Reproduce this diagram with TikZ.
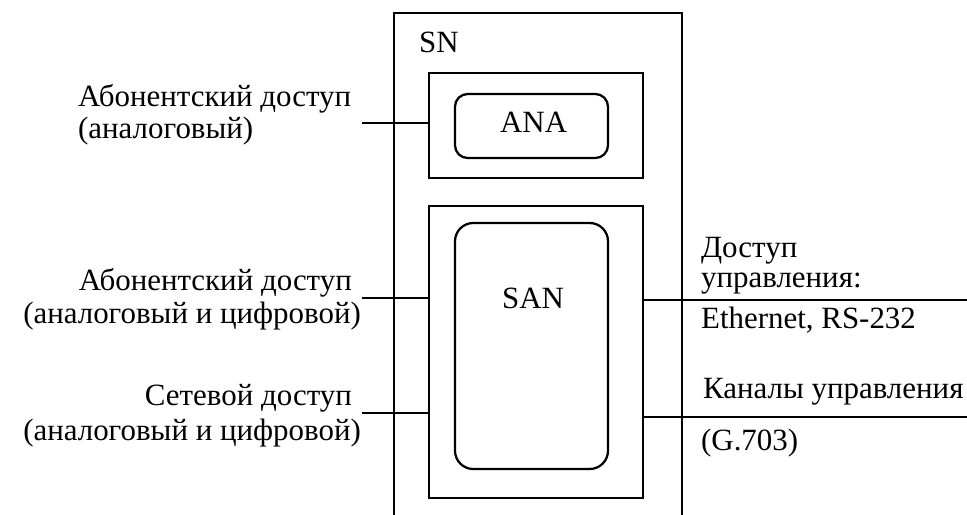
\documentclass[tikz,border=0pt]{standalone}
\usepackage{fontspec}
\setmainfont{Liberation Serif}
\usetikzlibrary{positioning}
\tikzset{
  frame/.style={draw, line width=1.6pt, inner sep=0pt},
  roundframe/.style={frame, rounded corners=9pt},
  txt/.style={inner sep=0pt, font=\fontsize{22}{24}\selectfont}
}
\begin{document}
\begin{tikzpicture}[line width=1.6pt]
\useasboundingbox (0,0) rectangle (24.175,-12.875);
% outer SN frame, open at the bottom
\draw (9.85,-12.875) -- (9.85,-0.325) -- (17.05,-0.325) -- (17.05,-12.875);
\node[txt, anchor=base west] (sn) at (10.45,-1.325) {SN};
% ANA block
\node[frame, minimum width=5.35cm, minimum height=2.625cm] (anabox) at (13.4,-3.1375) {};
\node[roundframe, minimum width=3.825cm, minimum height=1.6cm] (ana) at (13.2875,-3.15) {};
\node[txt, anchor=base] (anatext) at (13.34,-3.3) {ANA};
% SAN block
\node[frame, minimum width=5.35cm, minimum height=7.3cm] (sanbox) at (13.4,-8.8) {};
\node[roundframe, rounded corners=13pt, minimum width=3.825cm, minimum height=6.15cm] (san) at (13.2875,-8.65) {};
\node[txt, anchor=base] (santext) at (13.325,-7.7) {SAN};
% left side
\node[txt, anchor=base west] (abana1) at (1.925,-2.65) {Абонентский доступ};
\node[txt, anchor=base west] (abana2) at (1.925,-3.45) {(аналоговый)};
\node[txt, anchor=base east] (absan1) at (8.825,-7.25) {Абонентский доступ};
\node[txt, anchor=base east] (absan2) at (9.05,-8.075) {(аналоговый и цифровой)};
\node[txt, anchor=base east] (netsan1) at (8.825,-10.125) {Сетевой доступ};
\node[txt, anchor=base east] (netsan2) at (9.05,-11.0) {(аналоговый и цифровой)};
\coordinate (lin1) at (9.05,-3.075);
\coordinate (lin2) at (9.05,-7.45);
\coordinate (lin3) at (9.05,-10.325);
\draw (lin1) -- (lin1 -| anabox.west);
\draw (lin2) -- (lin2 -| sanbox.west);
\draw (lin3) -- (lin3 -| sanbox.west);
% right side
\node[txt, anchor=base west] (mgmt1) at (17.5,-6.425) {Доступ};
\node[txt, anchor=base west] (mgmt2) at (17.5,-7.175) {управления:};
\node[txt, anchor=base west] (eth) at (17.5,-8.2) {Ethernet, RS-232};
\node[txt, anchor=base west] (chan) at (17.55,-9.95) {Каналы управления};
\node[txt, anchor=base west] (g703) at (17.5,-11.25) {(G.703)};
\coordinate (rout1) at (24.175,-7.5);
\coordinate (rout2) at (24.175,-10.425);
\draw (rout1 -| sanbox.east) -- (rout1);
\draw (rout2 -| sanbox.east) -- (rout2);
\end{tikzpicture}
\end{document}
